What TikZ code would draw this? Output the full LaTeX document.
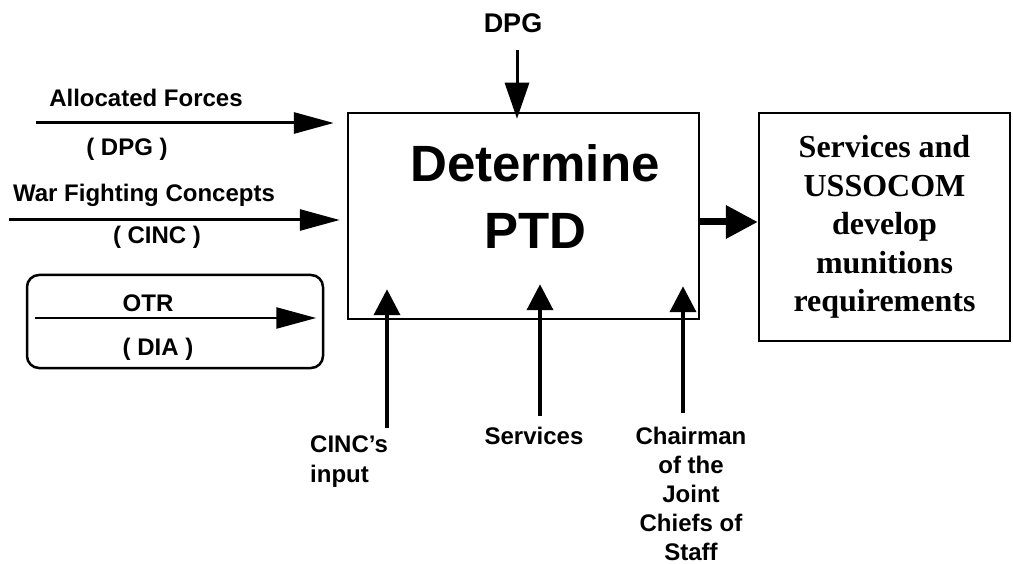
\documentclass[tikz,border=0pt]{standalone}
\usepackage{fontspec}
\setmainfont{Liberation Serif}
\setsansfont{Liberation Sans}
\usetikzlibrary{arrows.meta,positioning}

\begin{document}
\begin{tikzpicture}[x=1pt,y=-1pt,
					box node/.style={draw,line width=2.5pt,inner sep=0pt},
					label node/.style={font=\sffamily\bfseries\fontsize{24}{30}\selectfont,align=center,inner sep=0pt},
					in arrow/.style={-{Triangle[length=40pt,width=21pt]},line width=3pt},
					up arrow/.style={-{Triangle[length=26pt,width=26pt]},line width=4pt},
					out arrow/.style={-{Triangle[length=32pt,width=32pt]},line width=7pt}]

				\useasboundingbox (0,0) rectangle (1013,564);

				% boxes
				\node[box node,minimum width=351pt,minimum height=206pt] (ptd) at (523.5,216) {};
				\node[font=\sffamily\bfseries\fontsize{51}{67}\selectfont,align=center,inner sep=0pt] (ptd text) at (535,196.5) {Determine\\PTD};
				\node[box node,minimum width=251pt,minimum height=228pt,font=\rmfamily\bfseries\fontsize{32}{38.5}\selectfont,align=center] (req) at (884.5,227) {Services and\\USSOCOM\\develop\\munitions\\requirements};
				\node[box node,rounded corners=12pt,minimum width=296pt,minimum height=93pt] (otr box) at (175,321.5) {};

				% inputs from the left
				\node[label node] (af) at (146,98) {Allocated Forces};
				\node[label node] (af src) at (127,149) {( DPG )};
				\node[label node] (wf) at (144,195.5) {War Fighting Concepts};
				\node[label node] (wf src) at (157,237) {( CINC )};
				\node[label node] (otr) at (148,303) {OTR};
				\node[label node] (otr src) at (158,349) {( DIA )};
				\coordinate (af start) at (36,123);
				\coordinate (wf start) at (9,220);
				\coordinate (otr start) at (35,318);

				\draw[in arrow] (af start) -- ([xshift=-13pt]af start -| ptd.west);
				\draw[in arrow] (wf start) -- ([xshift=-7pt]wf start -| ptd.west);
				\draw[in arrow,line width=2.5pt] (otr start) -- ([xshift=-8pt]otr start -| otr box.east);

				% top input
				\node[label node,font=\sffamily\bfseries\fontsize{27}{30}\selectfont] (dpg) at (513,23) {DPG};
				\coordinate (dpg start) at (517,50);
				\draw[-{Triangle[length=36pt,width=24pt]},line width=3pt] (dpg start) -- ([yshift=-7pt]dpg start |- ptd.north);

				% inputs from below
				\node[label node,anchor=north west,align=left] (cinc) at (310,436) {CINC's\\input};
				\node[label node] (svc) at (534,436) {Services};
				\node[label node,anchor=north,font=\sffamily\bfseries\fontsize{24}{29}\selectfont] (cjcs) at (691,427) {Chairman\\of the\\Joint\\Chiefs of\\Staff};
				\coordinate (cinc foot) at (387,428);
				\coordinate (svc foot) at (540,416);
				\coordinate (cjcs foot) at (683,413);

				\draw[up arrow] (cinc foot) -- ([yshift=31pt]cinc foot |- ptd.south);
				\draw[up arrow] (svc foot) -- ([yshift=36pt]svc foot |- ptd.south);
				\draw[up arrow] (cjcs foot) -- ([yshift=34pt]cjcs foot |- ptd.south);

				% output
				\draw[out arrow] (ptd.east |- 0,222) -- (req.west |- 0,222);
			\end{tikzpicture}
\end{document}
